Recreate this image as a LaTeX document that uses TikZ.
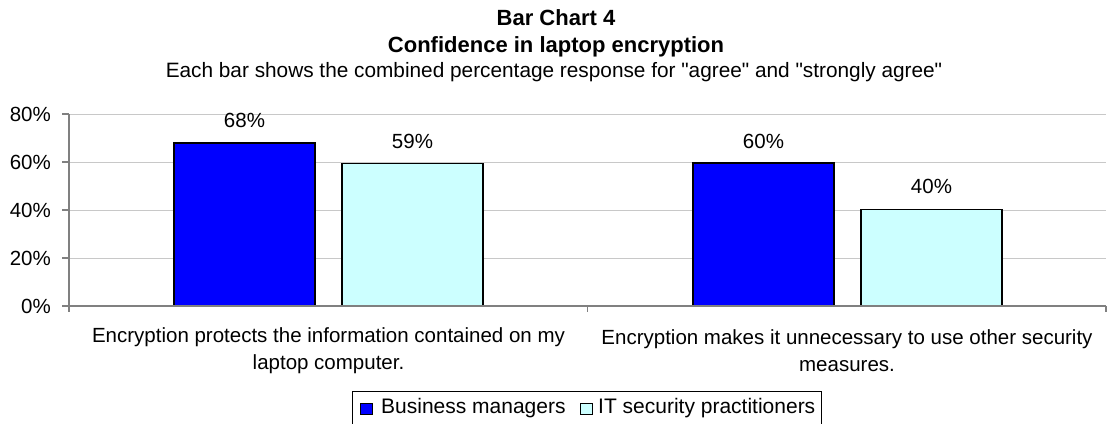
\documentclass[tikz,border=0pt]{standalone}
\usepackage{fontspec}
\setmainfont{Liberation Sans}
\definecolor{bizblue}{RGB}{0,0,255}
\definecolor{itcyan}{RGB}{204,255,255}
\definecolor{gridgray}{RGB}{200,200,200}
\definecolor{axisgray}{RGB}{128,128,128}
\begin{document}
\begin{tikzpicture}[x=1pt,y=-1pt,
  txt/.style={font=\fontsize{20.5}{27}\selectfont, inner sep=0pt},
  legtxt/.style={font=\fontsize{21}{27}\selectfont, inner sep=0pt},
  ttl/.style={font=\fontsize{22}{27}\selectfont\bfseries, inner sep=0pt},
  gridline/.style={draw=gridgray, line width=1pt},
  axisline/.style={draw=axisgray, line width=2pt},
  tickline/.style={draw=axisgray, line width=1.5pt},
  barbiz/.style={draw=black, line width=1.5pt, fill=bizblue},
  barit/.style={draw=black, line width=1.5pt, fill=itcyan},
  legbox/.style={draw=black, line width=0.8pt},
  legmark/.style={draw=black, line width=1pt}]
\useasboundingbox (0,0) rectangle (1107,423);
\clip (0,0) rectangle (1107,423);

% titles
\node[ttl] (t1) at (556,18) {Bar Chart 4};
\node[ttl] (t2) at (556,47) {Confidence in laptop encryption};
\node[txt, font=\fontsize{20.8}{27}\selectfont] (t3) at (554,72) {Each bar shows the combined percentage response for \textquotedbl agree\textquotedbl{} and \textquotedbl strongly agree\textquotedbl};

% grid lines and value axis labels
\foreach \v in {20,40,60,80}
  \draw[gridline] (69,{306-2.4*\v}) -- (1106,{306-2.4*\v});
\foreach \v in {0,20,40,60,80} {
  \draw[tickline] (62,{306-2.4*\v}) -- (69,{306-2.4*\v});
  \node[txt, anchor=east] (y\v) at (51,{306-2.4*\v}) {\v\%};
}

% bars
\draw[barbiz] (174,306) rectangle (315,{306-2.4*68});
\draw[barit]  (342,306) rectangle (483,{306-2.4*59.4});
\draw[barbiz] (693,306) rectangle (834,{306-2.4*59.5});
\draw[barit]  (861,306) rectangle (1002,{306-2.4*40.3});

% axes
\draw[axisline] (69,114) -- (69,312);
\draw[axisline] (62,306) -- (1106,306);
\foreach \x in {587.5,1106}
  \draw[tickline] (\x,306) -- (\x,312);

% value labels
\node[txt] (v1) at (244.5,120.7) {68\%};
\node[txt] (v2) at (412.5,141) {59\%};
\node[txt] (v3) at (763.5,141) {60\%};
\node[txt] (v4) at (931.5,186) {40\%};

% category labels
\node[txt, align=center] (c1) at (328.5,350.5) {Encryption protects the information contained on my\\laptop computer.};
\node[txt, align=center] (c2) at (847,350.5) {Encryption makes it unnecessary to use other security\\measures.};

% legend
\draw[legbox] (352,391) rectangle (821,432);
\draw[legmark, fill=bizblue] (360,403) rectangle (372.5,414);
\node[legtxt, anchor=west] (l1) at (381,408) {Business managers};
\draw[legmark, fill=itcyan] (580.7,403) rectangle (592.5,414);
\node[legtxt, anchor=west] (l2) at (598,408) {IT security practitioners};
\end{tikzpicture}
\end{document}
